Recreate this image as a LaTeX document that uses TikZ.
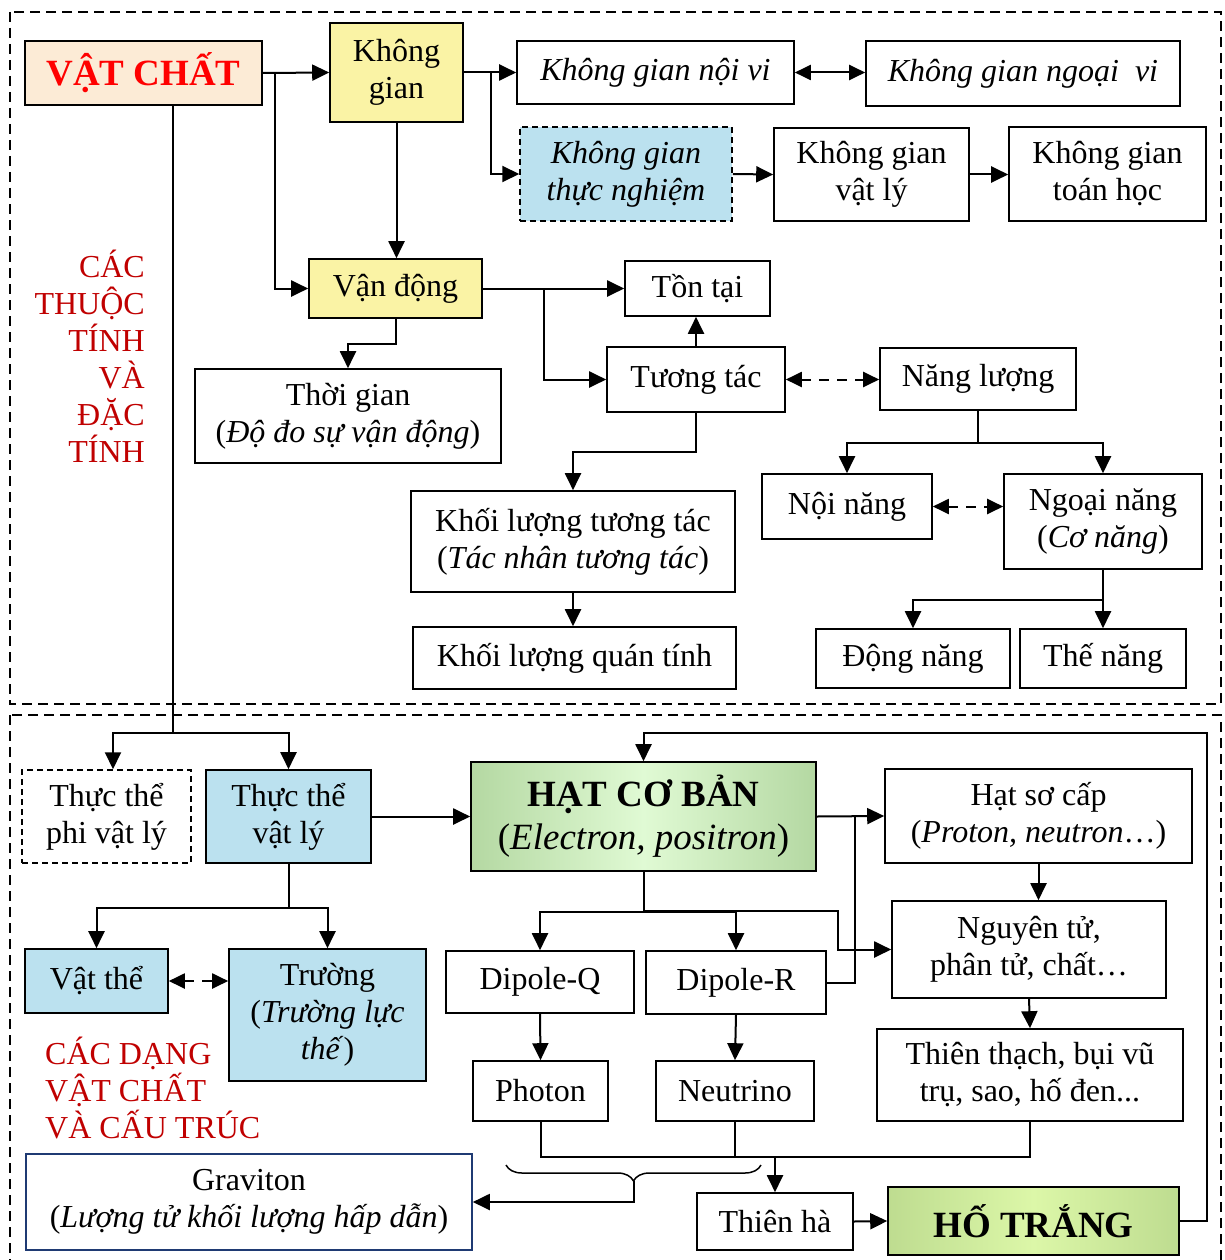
\documentclass[tikz,border=0pt]{standalone}
\usepackage{fontspec}
\setmainfont{Liberation Serif}
\usetikzlibrary{arrows.meta,decorations.pathreplacing}

\definecolor{peach}{RGB}{252,235,214}
\definecolor{lightyellow}{RGB}{250,243,165}
\definecolor{skyblue}{RGB}{187,225,239}
\definecolor{greenedge}{RGB}{180,216,162}
\definecolor{greenmid}{RGB}{224,250,212}
\definecolor{limeedge}{RGB}{190,220,144}
\definecolor{limemid}{RGB}{220,247,168}
\definecolor{darkred}{RGB}{192,0,0}
\definecolor{navy}{RGB}{31,58,115}

\begin{document}
\begin{tikzpicture}[x=1pt,y=-1pt,
    box/.style={draw, line width=1.6pt, align=center, inner sep=0pt,
      font=\fontsize{32}{37}\selectfont},
    sz/.style 2 args={minimum width=#1pt, minimum height=#2pt},
    ital/.style={font=\fontsize{32}{37}\selectfont\itshape},
    big/.style={font=\fontsize{37}{43}\selectfont},
    bigbold/.style={font=\fontsize{37}{43}\selectfont\bfseries},
    dashbox/.style={dash pattern=on 6pt off 4pt, line width=1.5pt},
    arr/.style={line width=2pt, -{Triangle[length=17pt,width=16pt]}},
    link/.style={line width=2pt},
    twoway/.style={line width=2pt,
      {Triangle[length=16pt,width=15pt]}-{Triangle[length=16pt,width=15pt]}},
    dashtwoway/.style={twoway, dash pattern=on 10pt off 8pt},
    zone/.style={line width=2pt, dash pattern=on 10pt off 6pt},
    redlabel/.style={text=darkred, inner sep=0pt, font=\fontsize{32}{37}\selectfont}]

  \useasboundingbox (0,0) rectangle (1224,1260);

  % the two dashed zones
  \draw[zone] (10,12) rectangle (1221,704);
  \draw[zone] (10,715) rectangle (1221,1262);

  % upper zone: properties
  \node[box, sz={237}{64}, fill=peach, bigbold, text=red] (vatchat) at (143.5,73) {VẬT CHẤT};
  \node[box, sz={133}{99}, fill=lightyellow] (khonggian) at (396.5,72.5) {Không\\gian};
  \node[box, sz={277}{63}, ital] (noivi) at (655.5,72.5) {Không gian nội vi};
  \node[box, sz={314}{65}, ital] (ngoaivi) at (1023,73.5) {Không gian ngoại\ \ vi};
  \node[box, sz={212}{94}, ital, fill=skyblue, dashbox] (thucnghiem) at (626,174) {Không gian\\thực nghiệm};
  \node[box, sz={195}{93}] (vatlykg) at (871.5,174.5) {Không gian\\vật lý};
  \node[box, sz={197}{94}] (toanhoc) at (1107.5,174) {Không gian\\toán học};
  \node[box, sz={173}{59}, fill=lightyellow] (vandong) at (395.5,288.5) {Vận động};
  \node[box, sz={145}{55}] (tontai) at (697.5,288.5) {Tồn tại};
  \node[box, sz={178}{65}] (tuongtac) at (696,379.5) {Tương tác};
  \node[box, sz={196}{62}] (nangluong) at (978,379) {Năng lượng};
  \node[box, sz={306}{94}] (thoigian) at (348,416) {Thời gian\\(\textit{Độ đo sự vận động})};
  \node[box, sz={324}{101}] (kltuongtac) at (573,541.5) {Khối lượng tương tác\\(\textit{Tác nhân tương tác})};
  \node[box, sz={323}{62}] (klquantinh) at (574.5,658) {Khối lượng quán tính};
  \node[box, sz={170}{65}] (noinang) at (847,506.5) {Nội năng};
  \node[box, sz={198}{95}] (ngoainang) at (1103,521.5) {Ngoại năng\\(\textit{Cơ năng})};
  \node[box, sz={194}{59}] (dongnang) at (913,658.5) {Động năng};
  \node[box, sz={166}{59}] (thenang) at (1103,658.5) {Thế năng};
  \node[redlabel, anchor=east, align=right] (thuoctinh) at (145,356) {CÁC\\THUỘC\\TÍNH\\VÀ\\ĐẶC\\TÍNH};

  \coordinate (j1) at (275,73);
  \coordinate (j2) at (491,72.5);
  \coordinate (j3) at (544,288.5);
  \draw[arr] (vatchat.east) -- (khonggian.west);
  \draw[arr] (j1) |- (vandong.west);
  \draw[arr] (khonggian.east) -- (noivi.west);
  \draw[arr] (j2) |- (thucnghiem.west);
  \draw[twoway] (noivi.east) -- (noivi.east -| ngoaivi.west);
  \draw[arr] (thucnghiem.east) -- (vatlykg.west);
  \draw[arr] (vatlykg.east) -- (vatlykg.east -| toanhoc.west);
  \draw[arr] (khonggian.south) -- (khonggian.south |- vandong.north);
  \draw[arr] (vandong.east) -- (tontai.west);
  \draw[arr] (j3) |- (tuongtac.west);
  \draw[arr] (vandong.south) -- ++(0,25) -| (thoigian.north);
  \draw[arr] (tuongtac.north) -- (tuongtac.north |- tontai.south);
  \draw[dashtwoway] (tuongtac.east) -- (tuongtac.east -| nangluong.west);
  \draw[arr] (tuongtac.south) -- ++(0,39) -| (kltuongtac.north);
  \draw[arr] (kltuongtac.south) -- (kltuongtac.south |- klquantinh.north);
  \draw[arr] (nangluong.south) -- ++(0,32) -| (noinang.north);
  \draw[arr] (nangluong.south) -- ++(0,32) -| (ngoainang.north);
  \draw[dashtwoway] (noinang.east) -- (noinang.east -| ngoainang.west);
  \draw[arr] (ngoainang.south) -- ++(0,30) -| (dongnang.north);
  \draw[arr] (ngoainang.south) -- (thenang.north);

  % lower zone: forms of matter
  \node[box, sz={169}{93}, dashbox] (phily) at (106.5,816.5) {Thực thể\\phi vật lý};
  \node[box, sz={165}{93}, fill=skyblue] (thucthe) at (288.5,816.5) {Thực thể\\vật lý};
  \node[box, sz={345}{109}, left color=greenedge, right color=greenedge, middle color=greenmid, big] (hcb) at (643.5,816.5) {\textbf{HẠT CƠ BẢN}\\(\textit{Electron, positron})};
  \node[box, sz={307}{94}] (hatsocap) at (1038.5,816) {Hạt sơ cấp\\(\textit{Proton, neutron}…)};
  \node[box, sz={274}{97}] (nguyentu) at (1029,949.5) {Nguyên tử,\\phân tử, chất…};
  \node[box, sz={306}{92}] (thienthach) at (1030,1075) {Thiên thạch, bụi vũ\\trụ, sao, hố đen...};
  \node[box, sz={188}{62}] (dipoleq) at (540,982) {Dipole-Q};
  \node[box, sz={180}{63}] (dipoler) at (736,982.5) {Dipole-R};
  \node[box, sz={135}{60}] (photon) at (540.5,1091) {Photon};
  \node[box, sz={158}{60}] (neutrino) at (735,1091) {Neutrino};
  \node[box, sz={143}{64}, fill=skyblue] (vatthe) at (96.5,981) {Vật thể};
  \node[box, sz={197}{132}, fill=skyblue] (truong) at (327.5,1015) {Trường\\(\textit{Trường lực}\\\textit{thế})};
  \node[redlabel, anchor=west, align=left] (dangvc) at (45,1088) {CÁC DẠNG\\VẬT CHẤT\\VÀ CẤU TRÚC};
  \node[box, sz={446}{96}, draw=navy] (graviton) at (249,1202) {Graviton\\(\textit{Lượng tử khối lượng hấp dẫn})};
  \node[box, sz={156}{57}] (thienha) at (775,1221.5) {Thiên hà};
  \node[box, sz={291}{68}, left color=limeedge, right color=limeedge, middle color=limemid, bigbold] (hotrang) at (1033.5,1221) {HỐ TRẮNG};

  \coordinate (j4) at (173,733);
  \coordinate (j5) at (855,816.5);
  \coordinate (j6) at (838,911);
  \coordinate (j7) at (775,1157);
  \coordinate (j8) at (1207,733);
  \coordinate (bt) at (633.5,1181);
  \draw[link] (vatchat.south -| j4) -- (j4);
  \draw[arr] (j4) -| ([xshift=6.5pt]phily.north);
  \draw[arr] (j4) -| (thucthe.north);
  \draw[arr] (thucthe.east) -- (hcb.west);
  \draw[arr] (thucthe.south) -- ++(0,44) -| (vatthe.north);
  \draw[arr] (thucthe.south) -- ++(0,44) -| (truong.north);
  \draw[dashtwoway] (vatthe.east) -- (vatthe.east -| truong.west);
  \draw[arr] (hcb.east) -- (hatsocap.west);
  \draw[link] (dipoler.east) -| (j5);
  \draw[arr] (hcb.south) -- ++(0,40) -| (dipoleq.north);
  \draw[arr] (hcb.south) -- ++(0,40) -| (dipoler.north);
  \draw[arr] (hcb.south) |- (j6) |- (nguyentu.west);
  \draw[arr] (hatsocap.south) -- (hatsocap.south |- nguyentu.north);
  \draw[arr] (nguyentu.south) -- (thienthach.north);
  \draw[arr] (dipoleq.south) -- (photon.north);
  \draw[arr] (dipoler.south) -- (neutrino.north);
  \draw[link] (photon.south) |- (j7) -| (thienthach.south);
  \draw[link] (neutrino.south) -- (neutrino.south |- j7);
  \draw[arr] (j7) -- (thienha.north);
  \draw[decorate, decoration={brace, mirror, amplitude=16pt}, line width=1.5pt] (506,1165) -- (761,1165);
  \draw[arr] (bt) |- (graviton.east);
  \draw[arr] (thienha.east) -- (hotrang.west);
  \draw[arr] (hotrang.east) -| (j8) -| (hcb.north);
\end{tikzpicture}
\end{document}
